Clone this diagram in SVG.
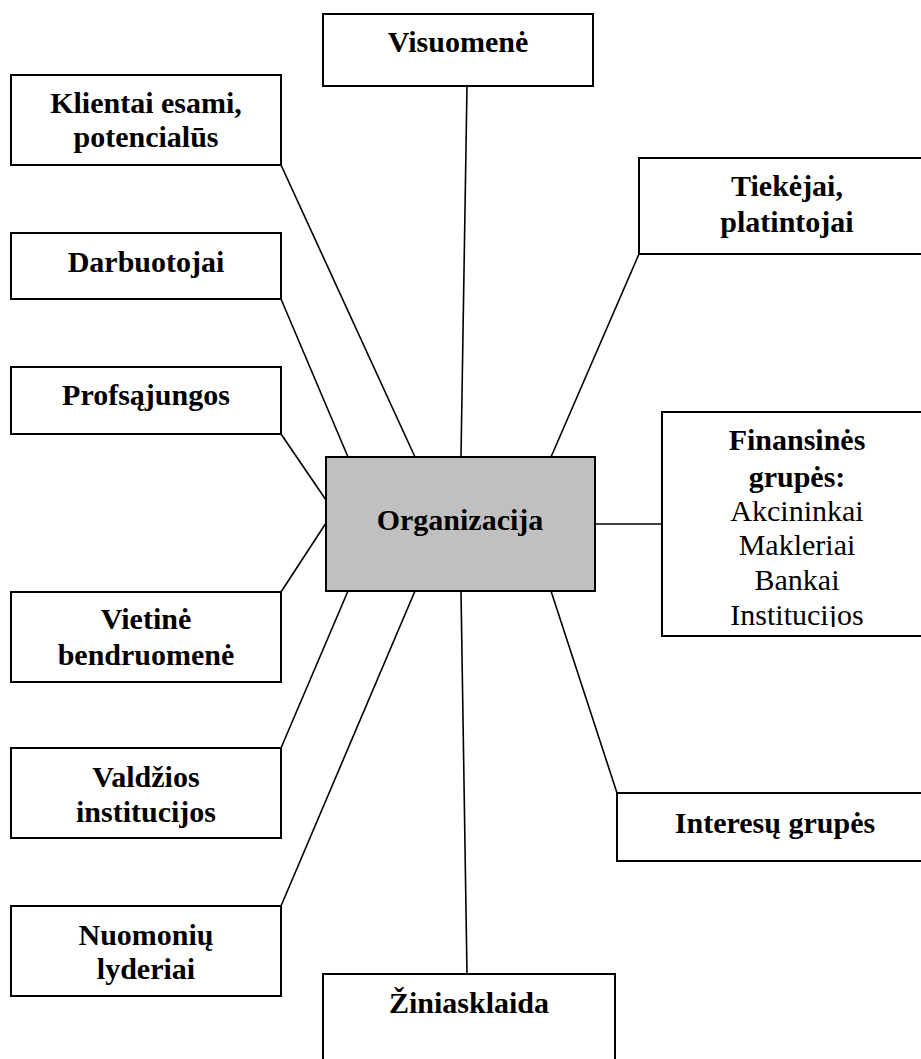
<svg xmlns="http://www.w3.org/2000/svg" width="921" height="1059" viewBox="0 0 921 1059">
  <style>
    .box { fill: #ffffff; stroke: #000000; stroke-width: 2; }
    .core { fill: #c0c0c0; stroke: #000000; stroke-width: 2; }
    .link { stroke: #000000; stroke-width: 1.6; fill: none; }
    text { font-family: "Liberation Serif", "Times New Roman", serif; font-size: 30px; text-anchor: middle; fill: #000000; }
    .b { font-weight: bold; }
  </style>
  <defs>
    <!-- the text area of the financial box ends just under the last baseline -->
    <clipPath id="finClip">
      <rect x="662" y="412" width="270" height="215"/>
    </clipPath>
  </defs>
  <rect width="921" height="1059" fill="#ffffff"/>

  <!-- connectors from the central organisation box -->
  <g id="connectors">
    <line class="link" x1="467" y1="86" x2="461" y2="457"/>
    <line class="link" x1="281" y1="165" x2="415" y2="457"/>
    <line class="link" x1="281" y1="299" x2="348" y2="457"/>
    <line class="link" x1="281" y1="434" x2="326" y2="500"/>
    <line class="link" x1="281" y1="592" x2="326" y2="523"/>
    <line class="link" x1="281" y1="748" x2="348" y2="591"/>
    <line class="link" x1="281" y1="906" x2="415" y2="591"/>
    <line class="link" x1="461" y1="591" x2="467" y2="974"/>
    <line class="link" x1="639" y1="254" x2="551" y2="457"/>
    <line class="link" x1="595" y1="524" x2="662" y2="524"/>
    <line class="link" x1="551" y1="591" x2="617" y2="793"/>
  </g>

  <g id="organizacija">
    <rect class="core" x="326" y="457" width="269" height="134"/>
    <text class="b" x="460" y="530">Organizacija</text>
  </g>

  <g id="visuomene">
    <rect class="box" x="323" y="14" width="270" height="72"/>
    <text class="b" x="458" y="52">Visuomenė</text>
  </g>

  <g id="klientai">
    <rect class="box" x="11" y="75" width="270" height="90"/>
    <text class="b" x="146" y="113">Klientai esami,</text>
    <text class="b" x="146" y="147">potencialūs</text>
  </g>

  <g id="darbuotojai">
    <rect class="box" x="11" y="233" width="270" height="66"/>
    <text class="b" x="146" y="272">Darbuotojai</text>
  </g>

  <g id="profsajungos">
    <rect class="box" x="11" y="367" width="270" height="67"/>
    <text class="b" x="146" y="405">Profsąjungos</text>
  </g>

  <g id="vietine-bendruomene">
    <rect class="box" x="11" y="592" width="270" height="90"/>
    <text class="b" x="146" y="629">Vietinė</text>
    <text class="b" x="146" y="665">bendruomenė</text>
  </g>

  <g id="valdzios-institucijos">
    <rect class="box" x="11" y="748" width="270" height="90"/>
    <text class="b" x="146" y="787">Valdžios</text>
    <text class="b" x="146" y="822">institucijos</text>
  </g>

  <g id="nuomoniu-lyderiai">
    <rect class="box" x="11" y="906" width="270" height="90"/>
    <text class="b" x="146" y="945">Nuomonių</text>
    <text class="b" x="146" y="979">lyderiai</text>
  </g>

  <g id="ziniasklaida">
    <rect class="box" x="323" y="974" width="292" height="110"/>
    <text class="b" x="469" y="1013">Žiniasklaida</text>
  </g>

  <g id="tiekejai">
    <rect class="box" x="639" y="158" width="296" height="96"/>
    <text class="b" x="787" y="196">Tiekėjai,</text>
    <text class="b" x="787" y="232">platintojai</text>
  </g>

  <g id="finansines-grupes">
    <rect class="box" x="662" y="412" width="270" height="224"/>
    <g clip-path="url(#finClip)">
      <text class="b" x="797" y="450">Finansinės</text>
      <text class="b" x="797" y="487">grupės:</text>
      <text x="797" y="521">Akcininkai</text>
      <text x="797" y="555">Makleriai</text>
      <text x="797" y="590">Bankai</text>
      <text x="797" y="625">Institucijos</text>
    </g>
  </g>

  <g id="interesu-grupes">
    <rect class="box" x="617" y="793" width="316" height="68"/>
    <text class="b" x="775" y="833">Interesų grupės</text>
  </g>
</svg>
